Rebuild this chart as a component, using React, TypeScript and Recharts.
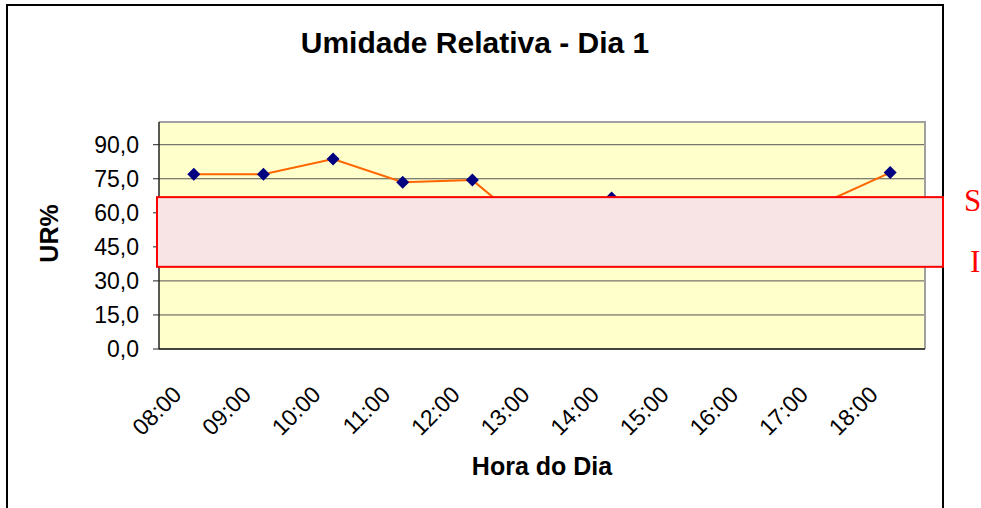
import { LineChart, Line, XAxis, YAxis, CartesianGrid, ReferenceArea } from "recharts";

const horas = ["08:00", "09:00", "10:00", "11:00", "12:00", "13:00", "14:00", "15:00", "16:00", "17:00", "18:00"];
const umidade = [77.0, 77.0, 83.7, 73.5, 74.4, 49.0, 66.5, 55.0, 58.0, 63.8, 77.7];
const ticksY = [0, 15, 30, 45, 60, 75, 90];
// marcas entre as horas (estilo Excel)
const divisoes = [0, 1, 2, 3, 4, 5, 6, 7, 8, 9, 10, 11];
const limiteSuperior = 66.9;
const limiteInferior = 36.2;

const data = horas.map((hora, i) => ({ hora, ur: umidade[i] }));

const fonte = "'Liberation Sans', Arial, sans-serif";
const serifa = "'Liberation Serif', 'Times New Roman', serif";

function Losango(props: any) {
  const { cx, cy, index } = props;
  if (cx == null || cy == null) return null;
  const r = 6.5;
  return (
    <path
      key={index}
      d={`M${cx},${cy - r}L${cx + r},${cy}L${cx},${cy + r}L${cx - r},${cy}Z`}
      fill="#000080"
    />
  );
}

function BordaPlot(props: any) {
  const { x, y, width, height } = props;
  return <path d={`M${x},${y}H${x + width}V${y + height}`} fill="none" stroke="#a0a0a0" strokeWidth={2} />;
}

function Faixa(props: any) {
  const { x, y, width, height } = props;
  const direita = x + width + 18;
  return (
    <g>
      <rect x={x - 2} y={y} width={width + 20} height={height} fill="#F8E4E4" stroke="#FF0000" strokeWidth={2} />
      <text x={direita + 21} y={y + 14} fill="#FF0000" fontSize={31} fontFamily={serifa}>
        S
      </text>
      <text x={direita + 27} y={y + height + 5} fill="#FF0000" fontSize={31} fontFamily={serifa}>
        I
      </text>
    </g>
  );
}

function TickHora(props: any) {
  const { x, y, payload } = props;
  const ax = x - 11;
  const ay = y + 40;
  return (
    <text x={ax} y={ay} transform={`rotate(-45 ${ax} ${ay})`} textAnchor="end" fontSize={23} fill="#000">
      {payload.value}
    </text>
  );
}

function RotuloX(props: any) {
  const vb = props.viewBox;
  if (!vb) return null;
  return (
    <text x={vb.x + vb.width / 2} y={vb.y + 119} textAnchor="middle" fontSize={25} fontWeight="bold" fill="#000">
      Hora do Dia
    </text>
  );
}

function RotuloY(props: any) {
  const vb = props.viewBox;
  if (!vb) return null;
  const cx = 58;
  const cy = vb.y + vb.height / 2 - 2;
  return (
    <text x={cx} y={cy} transform={`rotate(-90 ${cx} ${cy})`} textAnchor="middle" fontSize={25} fontWeight="bold" fill="#000">
      UR%
    </text>
  );
}

export default function App() {
  return (
    <div style={{ position: "absolute", left: 0, top: 0, width: 981, height: 508, overflow: "hidden", background: "#fff", fontFamily: fonte }}>
      <div style={{ position: "absolute", left: 6, top: 4, width: 938, height: 540, border: "2px solid #000", boxSizing: "border-box" }} />
      <div
        style={{
          position: "absolute",
          left: 7,
          width: 936,
          top: 28,
          lineHeight: "30px",
          textAlign: "center",
          fontSize: 30,
          fontWeight: "bold",
          color: "#000",
        }}
      >
        Umidade Relativa - Dia 1
      </div>
      <div style={{ position: "absolute", left: 0, top: 0 }}>
        <LineChart width={981} height={508} data={data} margin={{ top: 122, right: 56, bottom: 0, left: 0 }}>
          <CartesianGrid vertical={false} fill="#FFFFCC" stroke="#555" xAxisId="a" />
          <XAxis
            xAxisId="b"
            dataKey="hora"
            interval={0}
            height={152}
            padding={{ left: 34.8, right: 34.8 }}
            axisLine={false}
            tickLine={false}
            tickSize={0}
            tickMargin={0}
            tick={<TickHora />}
            label={{ content: (p: any) => <RotuloX {...p} /> }}
          />
          <XAxis
            xAxisId="a"
            type="number"
            domain={[0, 11]}
            ticks={divisoes}
            allowDataOverflow
            height={7}
            tick={false}
            tickSize={7}
            axisLine={{ stroke: "#222", strokeWidth: 1.5 }}
            tickLine={{ stroke: "#222" }}
          />
          <YAxis
            width={159}
            domain={[0, 100]}
            ticks={ticksY}
            allowDataOverflow
            tickFormatter={(v: number) => v.toFixed(1).replace(".", ",")}
            tickSize={6}
            tickMargin={14}
            tick={{ fontSize: 23, fill: "#000" }}
            axisLine={{ stroke: "#222", strokeWidth: 1.5 }}
            tickLine={{ stroke: "#222" }}
            label={{ content: (p: any) => <RotuloY {...p} /> }}
          />
          <ReferenceArea xAxisId="a" y1={0} y2={100} shape={<BordaPlot />} ifOverflow="visible" />
          <Line
            xAxisId="b"
            type="linear"
            dataKey="ur"
            stroke="#FF6600"
            strokeWidth={2}
            dot={(p: any) => <Losango key={p.index} {...p} />}
            activeDot={false}
            isAnimationActive={false}
          />
          <ReferenceArea
            xAxisId="a"
            y1={limiteInferior}
            y2={limiteSuperior}
            shape={<Faixa />}
            ifOverflow="visible"
            zIndex={1500}
          />
        </LineChart>
      </div>
    </div>
  );
}
